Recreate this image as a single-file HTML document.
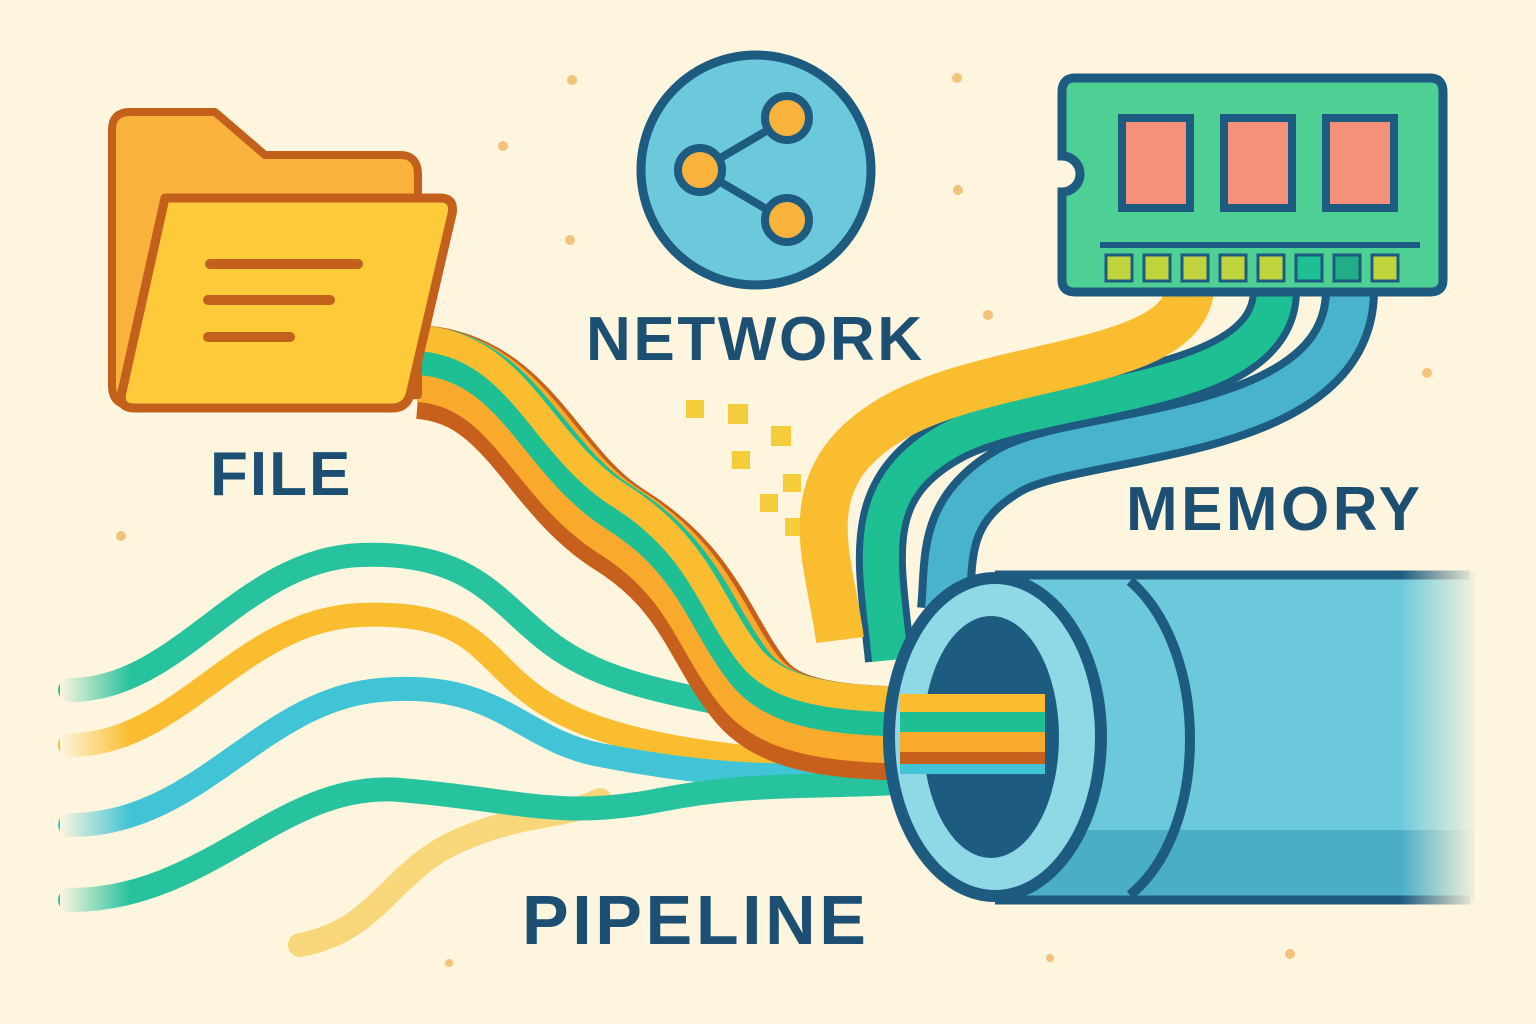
<!DOCTYPE html>
<html><head><meta charset="utf-8"><style>
html,body{margin:0;padding:0;background:#fdf5dd;}
svg{display:block}
text{font-family:"Liberation Sans",sans-serif;font-weight:bold;fill:#1d4f73;letter-spacing:2px}
</style></head><body>
<svg width="1536" height="1024" viewBox="0 0 1536 1024" xmlns="http://www.w3.org/2000/svg">
<defs>
<linearGradient id="fadeL" x1="0" x2="1"><stop offset="0" stop-color="#fdf5dd" stop-opacity="1"/><stop offset="1" stop-color="#fdf5dd" stop-opacity="0"/></linearGradient>
<linearGradient id="fadeR" x1="0" x2="1"><stop offset="0" stop-color="#fdf5dd" stop-opacity="0"/><stop offset="1" stop-color="#fdf5dd" stop-opacity="1"/></linearGradient>
<path id="fp" d="M420 372 C 520 380, 540 480, 620 530 S 710 640, 750 690 S 880 734, 1045 734"/>
</defs>
<rect width="1536" height="1024" fill="#fdf5dd"/>
<g fill="#f5c27a">
<circle cx="572" cy="80" r="5"/><circle cx="957" cy="78" r="5"/><circle cx="503" cy="146" r="5"/><circle cx="958" cy="190" r="5"/><circle cx="570" cy="240" r="5"/><circle cx="988" cy="315" r="5"/><circle cx="1427" cy="373" r="5"/><circle cx="121" cy="536" r="5"/><circle cx="1290" cy="954" r="5"/><circle cx="1050" cy="958" r="4"/><circle cx="449" cy="963" r="4"/>
</g>
<g fill="#f5cd3a">
<rect x="686" y="400" width="18" height="18"/><rect x="728" y="404" width="20" height="20"/><rect x="771" y="426" width="20" height="20"/><rect x="732" y="451" width="18" height="18"/><rect x="783" y="474" width="18" height="18"/><rect x="760" y="494" width="18" height="18"/><rect x="785" y="518" width="18" height="18"/>
</g>

<g fill="none" stroke-linecap="round" stroke-width="24">
<path d="M300 945 C 380 930, 390 870, 460 840 S 560 820, 600 800" stroke="#f7d77a"/>
<path d="M70 690 C 180 690, 240 560, 360 555 S 500 610, 560 650 S 700 700, 900 735" stroke="#27c29e"/>
<path d="M70 745 C 180 745, 240 620, 360 615 S 480 660, 540 700 S 700 760, 920 770" stroke="#fbbd30"/>
<path d="M70 825 C 200 825, 260 700, 380 690 S 520 740, 600 755 S 800 790, 960 760" stroke="#41c4d6"/>
<path d="M70 900 C 210 900, 280 780, 400 790 S 560 820, 660 800 S 820 790, 940 780" stroke="#27c29e"/>
</g>
<rect x="60" y="660" width="70" height="270" fill="url(#fadeL)"/>

<!-- folder streams -->
<g fill="none">
<use href="#fp" stroke="#c7601c" stroke-width="94"/>
<use href="#fp" transform="translate(0,-8)" stroke="#f9aa2c" stroke-width="76"/>
<use href="#fp" transform="translate(0,-22)" stroke="#1fbf94" stroke-width="50"/>
<use href="#fp" transform="translate(0,-34)" stroke="#fbbd30" stroke-width="26"/>
</g>

<!-- memory streams -->
<g fill="none">
<path d="M1350 290 C 1350 440, 1080 430, 1010 470 S 950 560, 945 610" stroke="#1e5b80" stroke-width="56"/>
<path d="M1350 290 C 1350 440, 1080 430, 1010 470 S 950 560, 945 610" stroke="#4ab3cc" stroke-width="40"/>
<path d="M1275 290 C 1275 400, 1040 390, 950 440 S 880 560, 890 660" stroke="#1e5b80" stroke-width="50"/>
<path d="M1275 290 C 1275 400, 1040 390, 950 440 S 880 560, 890 660" stroke="#1fbf94" stroke-width="36"/>
<path d="M1190 290 C 1180 370, 990 360, 890 420 S 830 560, 840 640" stroke="#fbbd30" stroke-width="48"/>
</g>

<!-- pipe -->
<rect x="995" y="572" width="480" height="331" fill="#6cc9db"/>
<rect x="995" y="830" width="480" height="70" fill="#4aaec6"/>
<line x1="995" y1="575" x2="1470" y2="575" stroke="#1e5b80" stroke-width="9"/>
<line x1="995" y1="900" x2="1470" y2="900" stroke="#1e5b80" stroke-width="9"/>
<rect x="1400" y="565" width="80" height="345" fill="url(#fadeR)"/>
<path d="M1130 581 C 1210 650, 1210 830, 1130 895" fill="none" stroke="#1e5b80" stroke-width="10"/>
<ellipse cx="995" cy="737" rx="112" ry="165" fill="#1e5b80"/>
<ellipse cx="995" cy="737" rx="100" ry="153" fill="#8fd8e6"/>
<ellipse cx="991" cy="737" rx="68" ry="121" fill="#1e5b80"/>
<g>
<rect x="900" y="694" width="145" height="18" fill="#fbbd30"/>
<rect x="900" y="712" width="145" height="20" fill="#1fbf94"/>
<rect x="900" y="732" width="145" height="20" fill="#f9aa2c"/>
<rect x="900" y="752" width="145" height="12" fill="#c7601c"/>
<rect x="900" y="764" width="145" height="10" fill="#41c4d6"/>
</g>

<!-- folder -->
<path d="M112 130 Q112 112 130 112 L215 112 L265 155 L400 155 Q418 155 418 175 L418 395 L130 405 Q112 405 112 385 Z" fill="#f9b23c" stroke="#c2601c" stroke-width="8" stroke-linejoin="round"/>
<path d="M165 198 L440 198 Q455 198 452 214 L410 395 Q406 408 392 408 L135 408 Q118 408 122 392 Z" fill="#fdcb3a" stroke="#c2601c" stroke-width="9" stroke-linejoin="round"/>
<g stroke="#c2601c" stroke-width="10" stroke-linecap="round">
<line x1="210" y1="264" x2="358" y2="264"/><line x1="208" y1="300" x2="330" y2="300"/><line x1="208" y1="337" x2="290" y2="337"/>
</g>

<!-- network -->
<circle cx="756" cy="170" r="115" fill="#6cc9db" stroke="#1e5b80" stroke-width="9"/>
<g stroke="#1e5b80" stroke-width="8"><line x1="700" y1="170" x2="785" y2="120"/><line x1="700" y1="170" x2="785" y2="220"/></g>
<g fill="#f9b23c" stroke="#1e5b80" stroke-width="8"><circle cx="787" cy="118" r="22"/><circle cx="700" cy="170" r="22"/><circle cx="787" cy="220" r="22"/></g>

<!-- memory -->
<path d="M1075 78 L1430 78 Q1443 78 1443 92 L1443 280 Q1443 292 1430 292 L1075 292 Q1062 292 1062 280 L1062 192 A18 18 0 0 0 1062 156 L1062 92 Q1062 78 1075 78 Z" fill="#4ecf94" stroke="#1e5b80" stroke-width="9"/>
<g fill="#f5917a" stroke="#1e5b80" stroke-width="8">
<rect x="1122" y="118" width="68" height="90"/><rect x="1224" y="118" width="68" height="90"/><rect x="1326" y="118" width="68" height="90"/>
</g>
<line x1="1100" y1="245" x2="1420" y2="245" stroke="#1e5b80" stroke-width="6"/>
<g fill="#bfd43c" stroke="#1e5b80" stroke-width="3">
<rect x="1106" y="255" width="26" height="26"/><rect x="1144" y="255" width="26" height="26"/><rect x="1182" y="255" width="26" height="26"/><rect x="1220" y="255" width="26" height="26"/><rect x="1258" y="255" width="26" height="26"/>
<rect x="1296" y="255" width="26" height="26" fill="#1fbf94"/><rect x="1334" y="255" width="26" height="26" fill="#1fae88"/><rect x="1372" y="255" width="26" height="26"/>
</g>

<text x="210" y="495" font-size="62">FILE</text>
<text x="586" y="360" font-size="62" textLength="338">NETWORK</text>
<text x="1126" y="530" font-size="62" textLength="296">MEMORY</text>
<text x="522" y="944" font-size="70" textLength="346">PIPELINE</text>
</svg>
</body></html>
